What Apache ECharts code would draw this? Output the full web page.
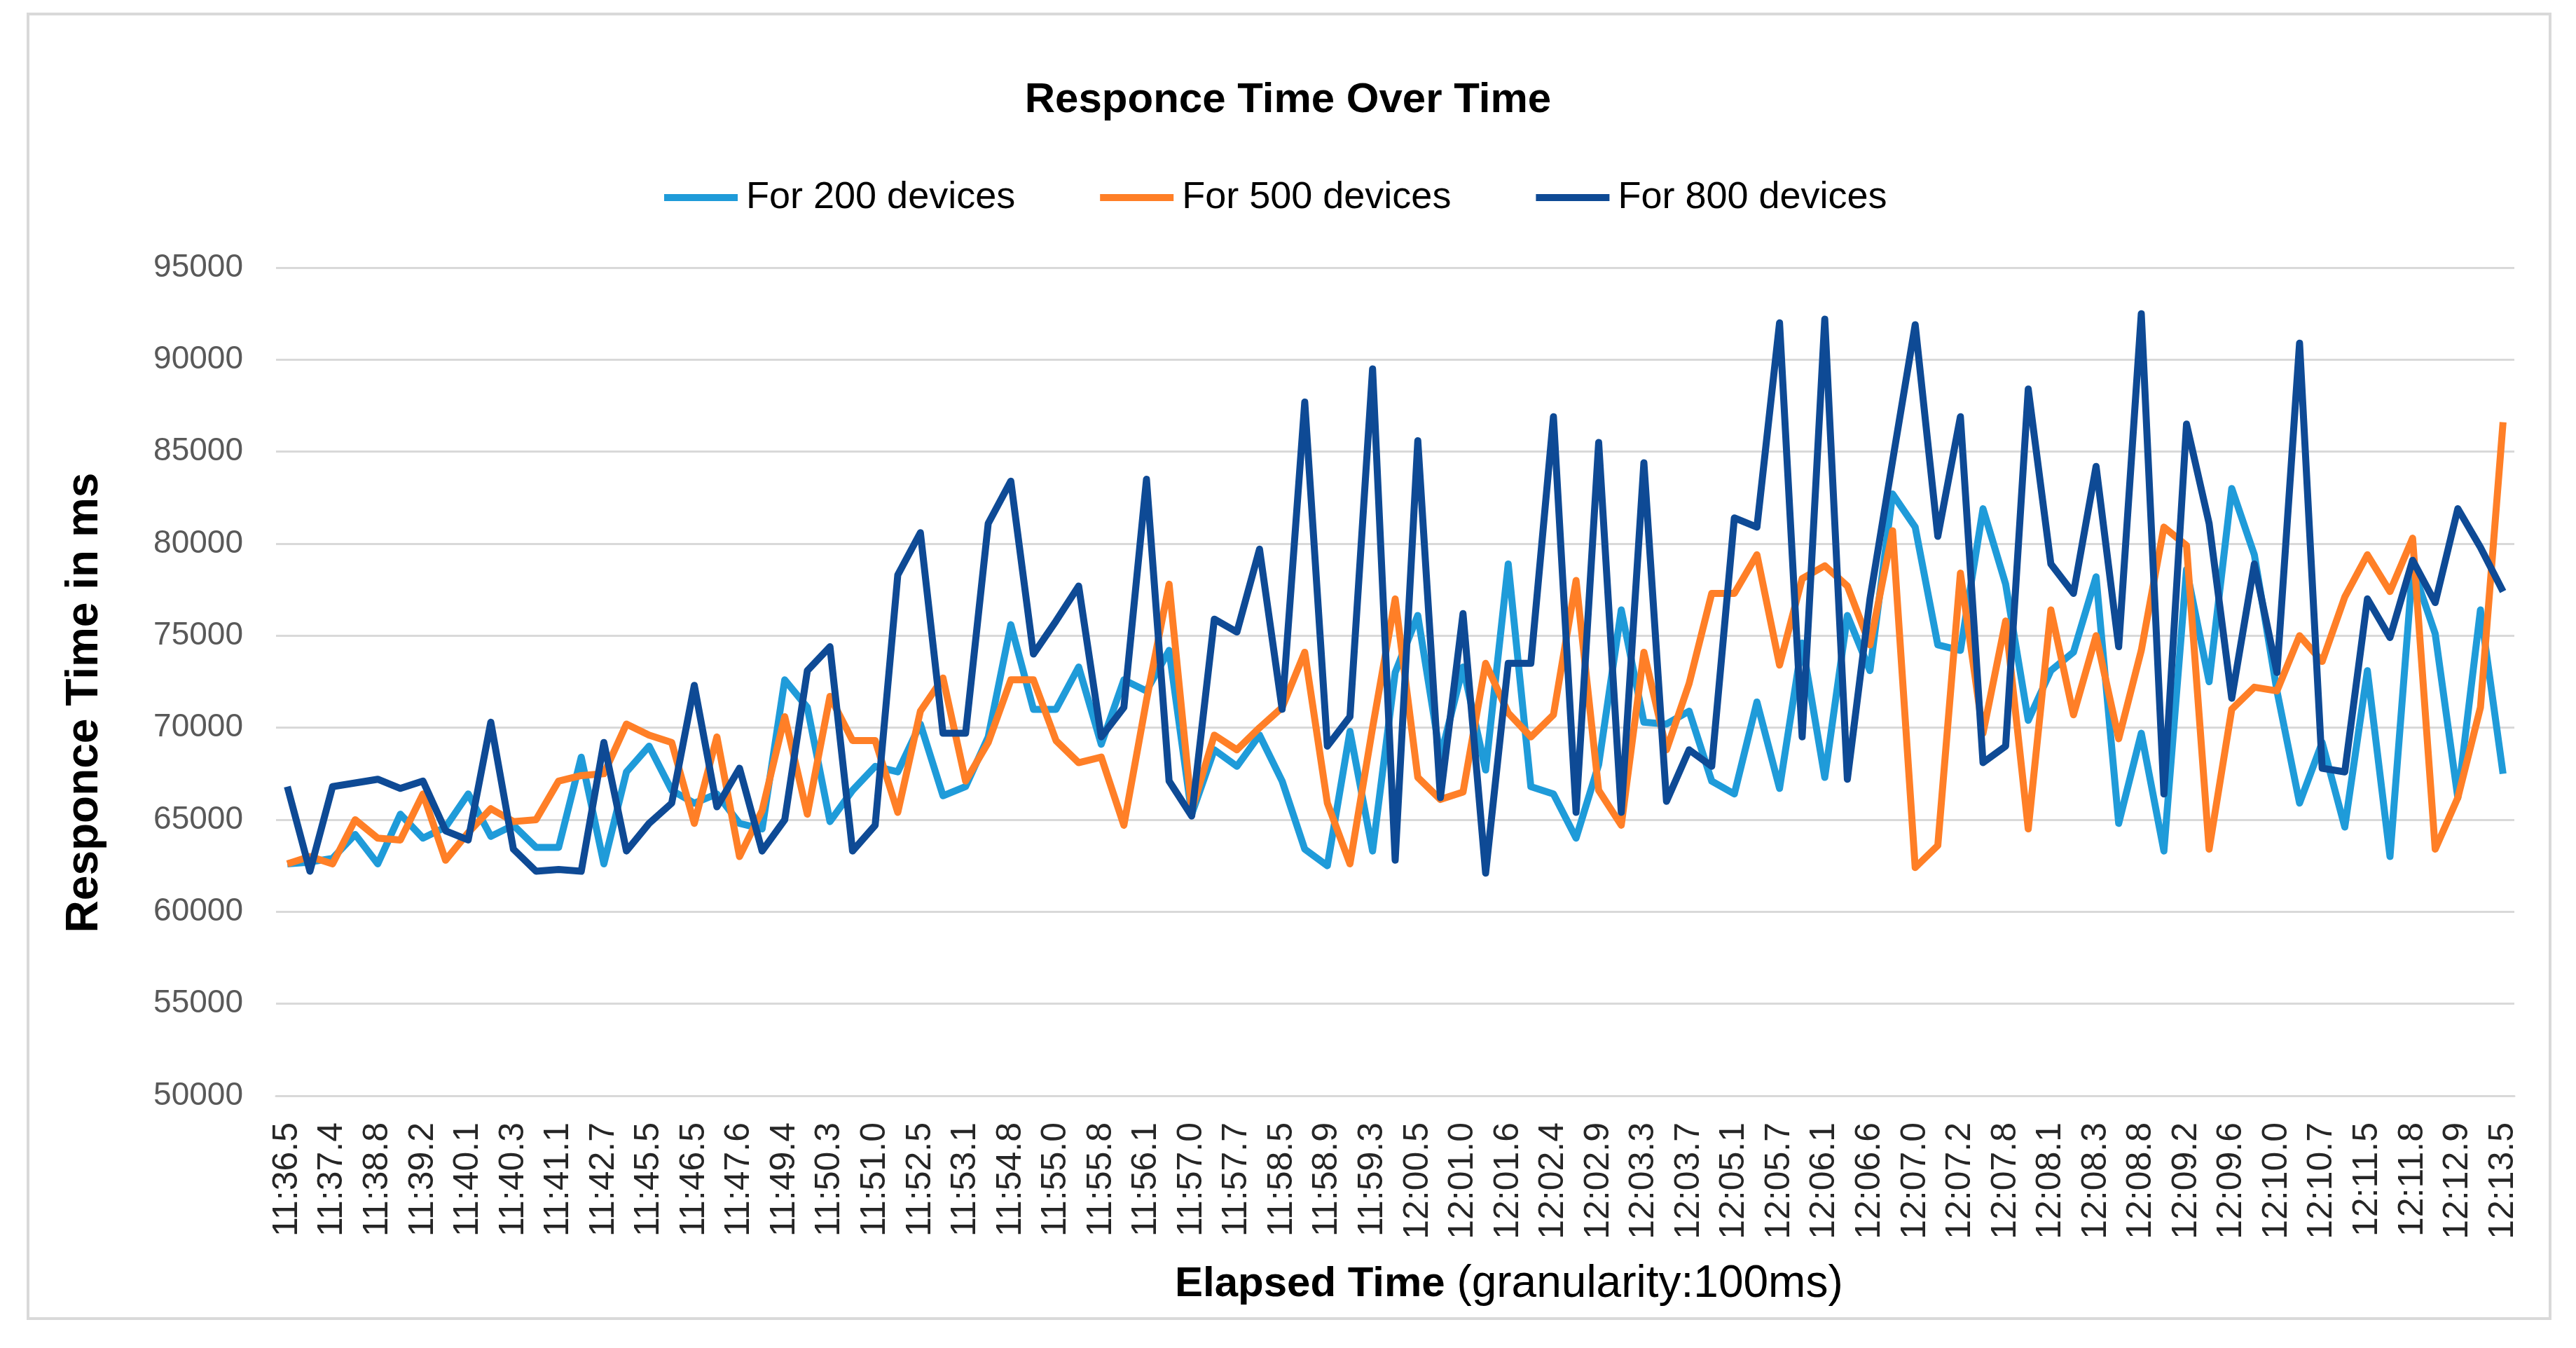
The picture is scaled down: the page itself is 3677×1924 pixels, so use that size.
<!DOCTYPE html>
<html>
<head>
<meta charset="utf-8">
<script src="https://cdn.jsdelivr.net/npm/echarts@6/dist/echarts.min.js"></script>
<style>
html,body{margin:0;padding:0;background:#fff;}
#chart{width:3677px;height:1924px;}
</style>
</head>
<body>
<div id="chart"></div>
<script>
// Tick labels shown on the x axis (every other sample point)
const tickLabels = ["11:36.5","11:37.4","11:38.8","11:39.2","11:40.1","11:40.3","11:41.1","11:42.7","11:45.5","11:46.5",
"11:47.6","11:49.4","11:50.3","11:51.0","11:52.5","11:53.1","11:54.8","11:55.0","11:55.8","11:56.1",
"11:57.0","11:57.7","11:58.5","11:58.9","11:59.3","12:00.5","12:01.0","12:01.6","12:02.4","12:02.9",
"12:03.3","12:03.7","12:05.1","12:05.7","12:06.1","12:06.6","12:07.0","12:07.2","12:07.8","12:08.1",
"12:08.3","12:08.8","12:09.2","12:09.6","12:10.0","12:10.7","12:11.5","12:11.8","12:12.9","12:13.5"];

const seriesNames = ["For 200 devices","For 500 devices","For 800 devices"];

const devices200 = [62600,62700,62900,64200,62600,65300,64000,64600,66400,64100,
64700,63500,63500,68400,62600,67600,69000,66600,65900,66400,
64800,64500,72600,71100,64900,66600,67900,67600,70200,66300,
66800,69500,75600,71000,71000,73300,69100,72600,72000,74200,
65300,68800,67900,69600,67100,63400,62500,69800,63300,73000,
76100,68400,73300,67700,78900,66800,66400,64000,68000,76400,
70300,70200,70900,67100,66400,71400,66700,74600,67300,76100,
73100,82700,80900,74500,74200,81900,77800,70400,73100,74100,
78200,64800,69700,63300,78600,72500,83000,79400,72000,65900,
69200,64600,73100,63000,78700,75100,66200,76400,67500];

const devices500 = [62600,63000,62600,65000,64000,63900,66400,62800,64300,65600,
64900,65000,67100,67400,67500,70200,69600,69200,64800,69500,
63000,65500,70600,65300,71700,69300,69300,65400,70900,72700,
67100,69200,72600,72600,69300,68100,68400,64700,71500,77800,
65500,69600,68800,70000,71100,74100,65900,62600,70000,77000,
67300,66100,66500,73500,70800,69500,70700,78000,66600,64700,
74100,68800,72400,77300,77300,79400,73400,78100,78800,77700,
74500,80700,62400,63600,78400,69700,75800,64500,76400,70700,
75000,69400,74200,80900,79900,63400,71000,72200,72000,75000,
73600,77100,79400,77400,80300,63400,66200,71100,86600];

const devices800 = [66800,62200,66800,67000,67200,66700,67100,64400,63900,70300,
63400,62200,62300,62200,69200,63300,64800,65900,72300,65700,
67800,63300,65000,73100,74400,63300,64700,78300,80600,69700,
69700,81100,83400,74000,75800,77700,69500,71100,83500,67100,
65200,75900,75200,79700,71000,87700,69000,70600,89500,62800,
85600,66200,76200,62100,73500,73500,86900,65400,85500,65400,
84400,66000,68800,67900,81400,80900,92000,69500,92200,67200,
77000,84500,91900,80400,86900,68100,69000,88400,78900,77300,
84200,74400,92500,66400,86500,81100,71600,78900,73000,90900,
67800,67600,77000,74900,79100,76800,81900,79800,77400];

// category axis: labelled points interleaved with unlabelled intermediate points
const categories = [];
tickLabels.forEach((t, i) => {
  categories.push(t);
  if (i < tickLabels.length - 1) categories.push('');
});

const colors = ['#1F9BD9', '#FF7F27', '#0E4A95'];
const FONT = "'Liberation Sans', Arial, sans-serif";

const chart = echarts.init(document.getElementById('chart'), null, {renderer: 'canvas'});
chart.setOption({
  backgroundColor: '#ffffff',
  animation: false,
  color: colors,
  title: [
    {
      text: 'Responce Time Over Time',
      left: 'center', top: 108,
      textStyle: {fontFamily: FONT, fontSize: 60, fontWeight: 'bold', color: '#000'}
    },
    {
      text: '{b|Elapsed Time }{r|(granularity:100ms)}',
      left: 1672, top: 1796,
      textStyle: {
        fontWeight: 'normal', fontFamily: FONT, fontSize: 62,
        rich: {
          b: {fontFamily: FONT, fontSize: 60, fontWeight: 'bold', color: '#000'},
          r: {fontFamily: FONT, fontSize: 64, fontWeight: 'normal', color: '#000'}
        }
      }
    }
  ],
  legend: {
    data: seriesNames,
    left: 943, top: 248,
    icon: 'rect',
    itemWidth: 105, itemHeight: 10,
    itemGap: 121,
    textStyle: {fontFamily: FONT, fontSize: 54, color: '#000', lineHeight: 58, padding: [0, 0, 0, 7]}
  },
  graphic: [
    {
      type: 'rect', silent: true, z: -1,
      shape: {x: 40, y: 20, width: 3600, height: 1862},
      style: {fill: 'none', stroke: '#D9D9D9', lineWidth: 4}
    },
    {
      type: 'text', x: 121, y: 1003, rotation: Math.PI / 2,
      style: {text: 'Responce Time in ms', fontFamily: FONT, fontSize: 64, fontWeight: 'bold', fill: '#000',
        textAlign: 'center', textVerticalAlign: 'middle'}
    }
  ],
  grid: {left: 394, right: 88, top: 382, bottom: 360, containLabel: false},
  xAxis: {
    type: 'category',
    data: categories,
    boundaryGap: true,
    axisLine: {show: true, lineStyle: {color: '#D9D9D9', width: 3}},
    axisTick: {show: false},
    axisLabel: {interval: 1, rotate: 90, margin: 38, fontFamily: FONT, fontSize: 50, color: '#262626'},
    splitLine: {show: false}
  },
  yAxis: {
    type: 'value',
    min: 50000, max: 95000, interval: 5000,
    axisLine: {show: false},
    axisTick: {show: false},
    axisLabel: {margin: 47, fontFamily: FONT, fontSize: 46, color: '#595959', formatter: v => String(v)},
    splitLine: {show: true, lineStyle: {color: '#D9D9D9', width: 3}}
  },
  series: [
    {name: seriesNames[0], type: 'line', data: devices200, symbol: 'none', lineStyle: {width: 10, color: colors[0], join: 'round'}, itemStyle: {color: colors[0]}},
    {name: seriesNames[1], type: 'line', data: devices500, symbol: 'none', lineStyle: {width: 10, color: colors[1], join: 'round'}, itemStyle: {color: colors[1]}},
    {name: seriesNames[2], type: 'line', data: devices800, symbol: 'none', lineStyle: {width: 10, color: colors[2], join: 'round'}, itemStyle: {color: colors[2]}}
  ]
});
</script>
</body>
</html>
